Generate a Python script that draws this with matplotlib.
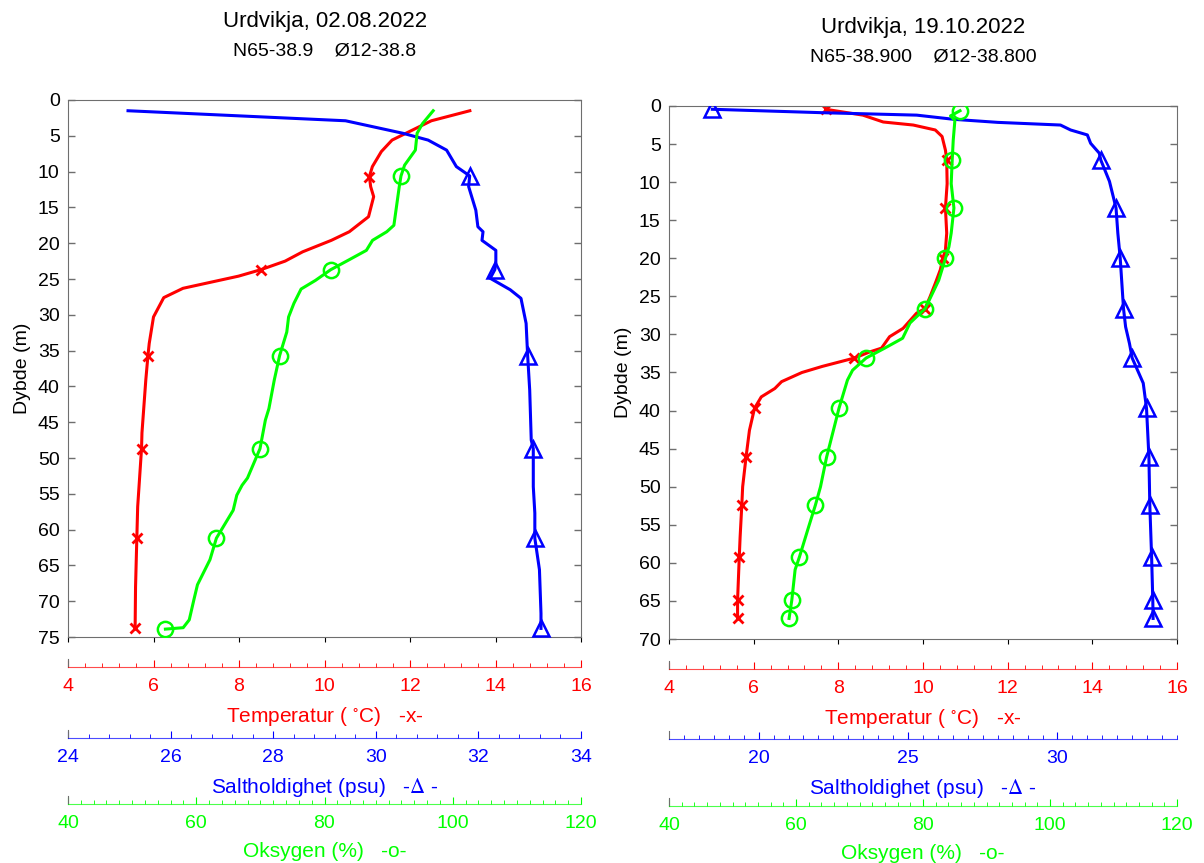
import numpy as np
import matplotlib
matplotlib.use("Agg")
import matplotlib.pyplot as plt
from matplotlib.ticker import MultipleLocator

plt.rcParams['font.family'] = ['Liberation Sans', 'DejaVu Sans']
plt.rcParams['mathtext.fontset'] = 'stix'

# ---- data: Urdvikja 02.08.2022 ----
title1 = "Urdvikja, 02.08.2022"
pos1 = "N65-38.9    Ø12-38.8"
d_t1 = [1.5, 2.9, 5.6, 7.2, 9.3, 10.7, 12.1, 13.5, 16.3, 18.4, 19.6, 21.2, 22.5, 23.7, 24.6, 26.3,
        27.6, 30.3, 34.0, 35.7, 39.1, 46.5, 48.7, 56.8, 61.2, 68.0, 73.8]
t1 = [13.40, 12.50, 11.58, 11.33, 11.12, 11.05, 11.08, 11.15, 11.03, 10.58, 10.16, 9.49, 9.08, 8.51,
      7.99, 6.69, 6.24, 6.00, 5.90, 5.87, 5.82, 5.73, 5.72, 5.63, 5.61, 5.58, 5.57]
d_s1 = [1.5, 2.9, 4.65, 5.6, 7.0, 9.3, 10.6, 12.1, 15.4, 17.7, 18.4, 19.6, 21.0, 22.8, 23.7, 24.9,
        26.5, 27.7, 31.2, 35.7, 40.5, 47.5, 48.7, 54.0, 57.7, 61.2, 65.6, 71.7, 73.8]
s1 = [25.17, 29.41, 30.53, 31.02, 31.38, 31.57, 31.83, 31.81, 31.95, 31.99, 32.09, 32.07, 32.34, 32.34,
      32.32, 32.23, 32.62, 32.83, 32.93, 32.96, 33.00, 33.03, 33.07, 33.07, 33.10, 33.10, 33.19, 33.22, 33.22]
d_o1 = [1.5, 3.3, 4.65, 7.0, 9.1, 10.6, 12.1, 17.5, 18.4, 19.6, 21.0, 22.3, 23.7, 25.2, 26.4, 28.4,
        30.3, 32.4, 35.7, 39.1, 43.1, 44.7, 48.7, 52.8, 53.8, 55.2, 57.3, 61.2, 64.2, 67.7, 69.8, 72.6,
        73.7, 73.9]
o1 = [96.95, 95.28, 94.44, 94.17, 92.49, 91.93, 91.66, 90.82, 89.71, 87.49, 86.53, 83.87, 80.97, 78.58,
      76.35, 75.23, 74.40, 74.12, 73.0, 72.17, 71.33, 70.78, 69.94, 67.99, 67.15, 66.32, 65.76, 63.14,
      62.14, 60.19, 59.63, 58.91, 57.96, 55.19]
mark1 = [10.7, 23.7, 35.7, 48.7, 61.2, 73.9]

# ---- data: Urdvikja 19.10.2022 ----
title2 = "Urdvikja, 19.10.2022"
pos2 = "N65-38.900    Ø12-38.800"
d_t2 = [0.43, 1.2, 2.1, 2.5, 3.15, 4.0, 5.8, 7.1, 10.2, 13.4, 16.7, 18.9, 20.0, 21.5, 23.3, 25.0,
        26.6, 27.2, 29.2, 30.3, 31.8, 32.3, 33.1, 34.2, 35.0, 36.2, 37.1, 38.2, 39.7, 42.6, 46.1,
        50.0, 52.4, 56.6, 59.2, 64.9, 67.3]
t2 = [7.70, 8.58, 9.06, 9.77, 10.29, 10.45, 10.53, 10.56, 10.57, 10.53, 10.56, 10.53, 10.47, 10.41,
      10.29, 10.17, 10.05, 9.85, 9.53, 9.21, 9.02, 8.74, 8.38, 7.62, 7.14, 6.66, 6.50, 6.18, 6.02,
      5.90, 5.82, 5.74, 5.72, 5.68, 5.66, 5.62, 5.62]
d_s2 = [0.43, 0.88, 1.2, 1.75, 2.15, 2.5, 3.15, 3.8, 4.9, 6.2, 7.1, 9.9, 13.4, 16.7, 20.0, 24.2,
        26.6, 29.0, 31.2, 33.1, 36.4, 39.7, 46.1, 52.4, 59.2, 64.9, 67.3]
s2 = [18.45, 22.13, 25.29, 26.53, 28.0, 30.10, 30.44, 31.0, 31.11, 31.40, 31.45, 31.74, 31.96, 32.02,
      32.10, 32.17, 32.21, 32.28, 32.41, 32.50, 32.87, 32.98, 33.06, 33.09, 33.15, 33.19, 33.20]
d_o2 = [0.62, 1.3, 1.9, 4.5, 7.1, 10.2, 13.4, 16.7, 18.5, 20.0, 22.9, 26.6, 28.5, 30.5, 31.8, 33.1,
        34.7, 36.0, 39.7, 42.3, 46.1, 50.0, 52.4, 55.3, 59.2, 60.9, 64.9, 67.3]
o2 = [85.83, 84.33, 85.02, 84.76, 84.6, 84.44, 84.87, 84.44, 84.08, 83.54, 82.47, 80.35, 77.95, 76.79,
      73.97, 71.04, 68.91, 68.1, 66.77, 65.98, 64.82, 63.86, 63.06, 61.98, 60.55, 59.86, 59.34, 58.91]
mark2 = [0.5, 7.1, 13.4, 20.0, 26.6, 33.1, 39.7, 46.1, 52.4, 59.2, 64.9, 67.3]

RED, BLUE, GREEN = (1, 0, 0), (0, 0, 1), (0, 1, 0)
GREY = '#6e6e6e'
W, H = 1204, 863


def px(x0, y0, x1, y1):
    # pixel box (top-left origin) -> figure fraction rect
    return [x0 / W, 1 - y1 / H, (x1 - x0) / W, (y1 - y0) / H]


def nearest(depths, marks):
    d = np.asarray(depths)
    return sorted(set(int(np.argmin(np.abs(d - m))) for m in marks))


def profile_panel(fig, box, ymax, temp, sal, oxy, marks, sal_lim, title, pos, tx, ty):
    ax = fig.add_axes(px(*box))
    ax.set_ylim(ymax, 0)
    ax.set_xlim(4, 16)
    ax.yaxis.set_major_locator(MultipleLocator(5))
    ax.tick_params(axis='y', direction='in', length=5, width=1, color=GREY, labelsize=14,
                   left=True, right=True, pad=6)
    ax.tick_params(axis='x', bottom=False, top=False, labelbottom=False)
    for sp in ax.spines.values():
        sp.set_color(GREY)
    ax.set_ylabel("Dybde (m)", fontsize=14, labelpad=5)

    axs = ax.twiny()
    axs.set_xlim(*sal_lim)
    axo = ax.twiny()
    axo.set_xlim(40, 120)
    for a in (axs, axo):
        a.axis('off')

    lw = 2.2
    d, v = temp
    ax.plot(v, d, color=RED, lw=lw, marker='x', ms=7, mew=2, markevery=nearest(d, marks))
    d, v = sal
    axs.plot(v, d, color=BLUE, lw=lw, marker='^', ms=11, mew=1.8, fillstyle='none',
             markevery=nearest(d, marks))
    d, v = oxy
    axo.plot(v, d, color=GREEN, lw=lw, marker='o', ms=11, mew=1.8, fillstyle='none',
             markevery=nearest(d, marks))
    for a in (axs, axo):
        a.set_ylim(ymax, 0)

    fig.text(tx / W, 1 - ty / H, title, ha='center', va='center', fontsize=16)
    fig.text(tx / W, 1 - (ty + 29) / H, pos, ha='center', va='center', fontsize=14)
    return ax


def scale_axis(fig, x0, x1, yline, lim, major, minor, color, label, ticks=None):
    a = fig.add_axes(px(x0, yline - 8, x1, yline))
    a.set_xlim(*lim)
    a.set_ylim(0, 1)
    a.patch.set_visible(False)
    for k in ('top', 'right'):
        a.spines[k].set_visible(False)
    a.spines['bottom'].set_color(color)
    a.spines['bottom'].set_linewidth(0.8)
    a.spines['bottom'].set_alpha(0.7)
    a.spines['left'].set_color(GREY)
    a.set_yticks([])
    if ticks is not None:
        a.set_xticks(ticks)
    else:
        a.xaxis.set_major_locator(MultipleLocator(major))
    a.xaxis.set_minor_locator(MultipleLocator(minor))
    a.tick_params(axis='x', which='major', direction='in', length=5, width=0.8, color=color,
                  labelcolor=color, labelsize=14, pad=8)
    a.tick_params(axis='x', which='minor', direction='in', length=3, width=0.6, color=color)
    a.set_xlabel(label, color=color, fontsize=15, labelpad=7)
    return a


fig = plt.figure(figsize=(W / 100, H / 100), dpi=100)

profile_panel(fig, (68, 100, 581, 637), 75, (d_t1, t1), (d_s1, s1), (d_o1, o1), mark1,
              (24, 34), title1, pos1, 325, 22)
profile_panel(fig, (669, 106, 1177, 639), 70, (d_t2, t2), (d_s2, s2), (d_o2, o2), mark2,
              (17, 34), title2, pos2, 923, 28)

tlab = r"Temperatur ( $^{\circ}$C)   -x-"
slab = r"Saltholdighet (psu)   -$\Delta$ -"
olab = "Oksygen (%)   -o-"

scale_axis(fig, 68, 581, 667, (4, 16), 2, 0.4, RED, tlab)
scale_axis(fig, 68, 581, 738, (24, 34), 2, 0.4, BLUE, slab)
scale_axis(fig, 68, 581, 804, (40, 120), 20, 2, GREEN, olab)

scale_axis(fig, 669, 1177, 669, (4, 16), 2, 0.4, RED, tlab)
scale_axis(fig, 669, 1177, 739, (17, 34), 5, 0.5, BLUE, slab, ticks=[20, 25, 30])
scale_axis(fig, 669, 1177, 806, (40, 120), 20, 2, GREEN, olab)

fig.savefig("out.png", dpi=100)
